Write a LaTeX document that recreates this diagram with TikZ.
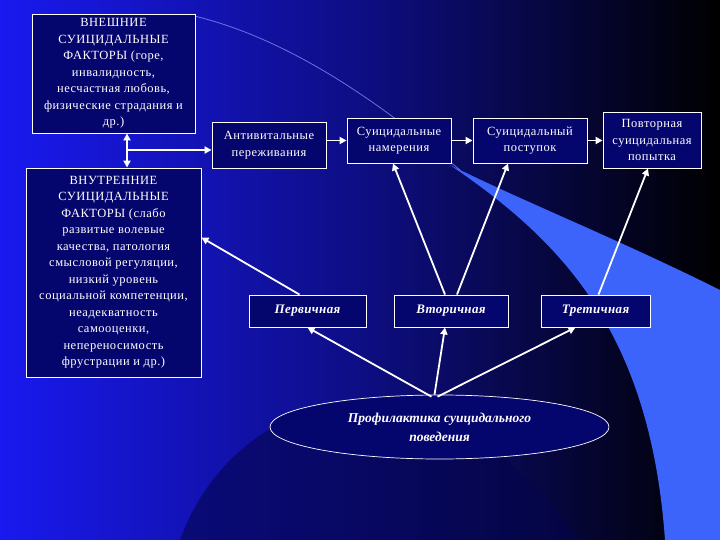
\documentclass[tikz,border=0pt]{standalone}
\usepackage{fontspec}
\setmainfont{Liberation Serif}
\usetikzlibrary{shapes.geometric,arrows.meta}
\definecolor{navy}{RGB}{5,5,110}
\definecolor{band}{RGB}{60,100,250}
\definecolor{bgl}{RGB}{25,25,240}
\tikzset{
  box/.style={draw=white,fill=navy,text=white,align=center,font=\addfontfeatures{LetterSpace=4}\fontsize{12.5}{16.5}\selectfont,inner sep=1pt,line width=0.9pt},
  it/.style={font=\bfseries\itshape\addfontfeatures{LetterSpace=3}\fontsize{13}{14}\selectfont},
  arr/.style={draw=white,line width=1.8pt,-{Triangle[length=7pt,width=7pt]}},
  darr/.style={draw=white,line width=1.8pt,{Triangle[length=7pt,width=7pt]}-{Triangle[length=7pt,width=7pt]}}
}
\begin{document}
\begin{tikzpicture}[x=1pt,y=-1pt]
\useasboundingbox (0,0) rectangle (720,540);
\shade[left color=bgl,right color=black,middle color=bgl!55!black] (0,0) rectangle (720,540);
\fill[navy!70!black,opacity=0.6] (180,540) .. controls (230,400) and (420,320) .. (580,540) -- cycle;
\fill[band] (450,165) .. controls (560,240) and (650,330) .. (665,540) -- (720,540) -- (720,290) .. controls (620,240) and (520,200) .. (450,165) -- cycle;
\draw[white!60!blue,line width=0.8pt,opacity=0.7] (190,15) .. controls (300,40) and (400,120) .. (460,170);
\node[box,minimum width=163,minimum height=119] (ext) at (113.5,73.5) {ВНЕШНИЕ\\СУИЦИДАЛЬНЫЕ\\ФАКТОРЫ (горе,\\инвалидность,\\несчастная любовь,\\физические страдания и\\др.)};
\node[box,minimum width=175,minimum height=209] (int) at (113.5,272.5) {ВНУТРЕННИЕ\\СУИЦИДАЛЬНЫЕ\\ФАКТОРЫ (слабо\\развитые волевые\\качества, патология\\смысловой регуляции,\\низкий уровень\\социальной компетенции,\\неадекватность\\самооценки,\\непереносимость\\фрустрации и др.)};
\node[box,minimum width=114,minimum height=46] (anti) at (269,145) {Антивитальные\\переживания};
\node[box,minimum width=104,minimum height=45] (nam) at (399,140.5) {Суицидальные\\намерения};
\node[box,minimum width=114,minimum height=45] (post) at (530,140.5) {Суицидальный\\поступок};
\node[box,minimum width=98,minimum height=56] (povt) at (652,140) {Повторная\\суицидальная\\попытка};
\node[box,it,minimum width=117,minimum height=32] (p1) at (307.5,311) {Первичная};
\node[box,it,minimum width=114,minimum height=32] (p2) at (451,311) {Вторичная};
\node[box,it,minimum width=109,minimum height=32] (p3) at (595.5,311) {Третичная};
\node[ellipse,draw=white,fill=navy,text=white,minimum width=339,minimum height=64,align=center,font=\bfseries\itshape\fontsize{13.5}{19}\selectfont,line width=0.7pt] (ell) at (439.5,427) {Профилактика суицидального\\поведения};
\coordinate (j) at (127,150);
\draw[darr] (ext.south -| j) -- (int.north -| j);
\draw[arr] (j) -- (j -| anti.west);
\draw[arr] (anti.east |- nam.east) -- (nam.east -| nam.west);
\draw[arr] (nam.east) -- (post.west);
\draw[arr] (post.east) -- (post.east -| povt.west);
\draw[arr] ([xshift=-8pt]p1.north) -- ([yshift=35pt]int.east);
\draw[arr] ([xshift=-6pt]p2.north) -- ([xshift=-6pt]nam.south);
\draw[arr] ([xshift=6pt]p2.north) -- ([xshift=-22pt]post.south);
\draw[arr] ([xshift=3pt]p3.north) -- ([xshift=-4pt]povt.south);
\draw[arr] ([xshift=-8pt,yshift=-2pt]ell.north) -- (p1.south);
\draw[arr] ([xshift=-5pt]ell.north) -- ([xshift=-6pt]p2.south);
\draw[arr] ([xshift=-2pt,yshift=-2pt]ell.north) -- ([xshift=-20pt]p3.south);
\end{tikzpicture}
\end{document}
